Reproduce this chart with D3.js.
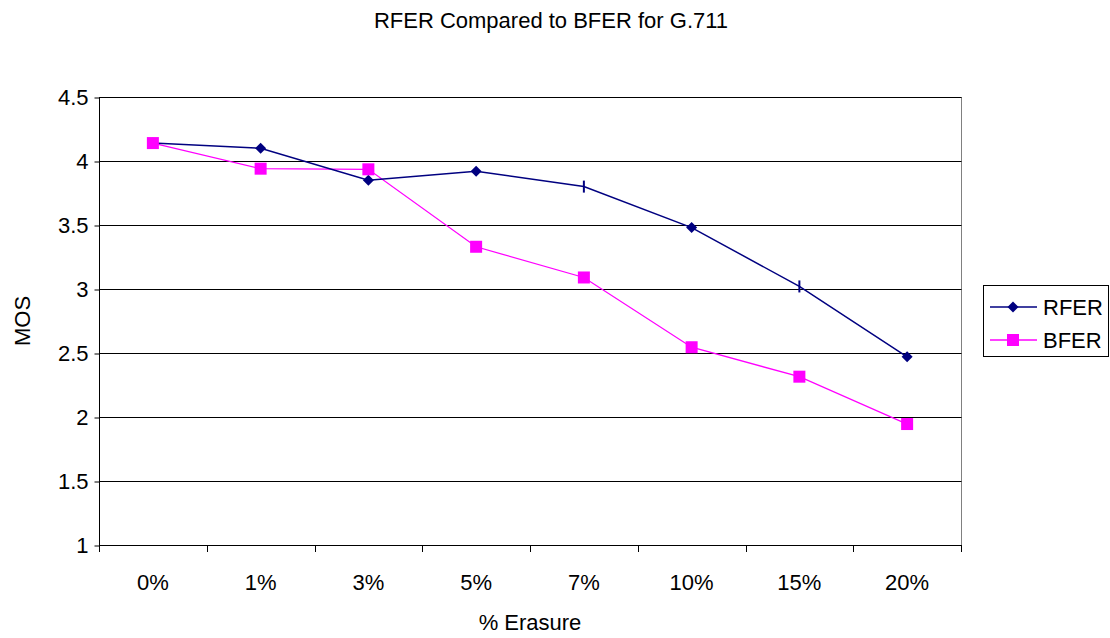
<!DOCTYPE html>
<html>
<head>
<meta charset="utf-8">
<script src="https://cdn.jsdelivr.net/npm/d3@7"></script>
<style>
  html, body { margin: 0; padding: 0; background: #fff; }
  svg { display: block; font-family: "Liberation Sans", Arial, sans-serif; }
</style>
</head>
<body>
<svg id="chart" width="1110" height="638"></svg>
<script>
// Categories and series values
const categories = ["0%", "1%", "3%", "5%", "7%", "10%", "15%", "20%"];
const rferValues = [4.14, 4.10, 3.85, 3.92, 3.80, 3.48, 3.02, 2.47];
const bferValues = [4.14, 3.94, 3.935, 3.33, 3.09, 2.545, 2.315, 1.945];
const yTickValues = [1, 1.5, 2, 2.5, 3, 3.5, 4, 4.5];
const seriesNames = ["RFER", "BFER"];

const svg = d3.select("#chart");
const W = 1110, H = 638;
const plot = { left: 99, right: 961, top: 97, bottom: 545 };
const fontSize = 22;

const x = d3.scaleBand().domain(categories).range([plot.left, plot.right]).padding(0);
const y = d3.scaleLinear().domain([1, 4.5]).range([plot.bottom, plot.top]);
const cx = c => x(c) + x.bandwidth() / 2;

// Plot area frame
svg.append("rect")
  .attr("x", plot.left + 0.5).attr("y", plot.top + 0.5)
  .attr("width", plot.right - plot.left).attr("height", plot.bottom - plot.top)
  .attr("fill", "#fff").attr("stroke", "#808080").attr("stroke-width", 1);

// Horizontal gridlines
svg.append("g").selectAll("line")
  .data(yTickValues.filter(v => v > 1))
  .join("line")
  .attr("x1", plot.left).attr("x2", plot.right + 0.5)
  .attr("y1", d => Math.round(y(d)) + 0.5).attr("y2", d => Math.round(y(d)) + 0.5)
  .attr("stroke", "#000").attr("stroke-width", 1);

// Y axis
const yAxis = d3.axisLeft(y).tickValues(yTickValues).tickSize(5).tickPadding(6)
  .tickFormat(d => String(d));
const gy = svg.append("g").attr("transform", `translate(${plot.left + 0.5},0.5)`).call(yAxis);
gy.select(".domain").attr("stroke", "#000").attr("d", `M0,${plot.top}V${plot.bottom}`);
gy.selectAll(".tick line").attr("stroke", "#000");
gy.selectAll(".tick text").attr("font-size", fontSize).attr("fill", "#000")
  .attr("font-family", "Liberation Sans, Arial, sans-serif");

// X axis: baseline, ticks between categories, labels centred on categories
const gx = svg.append("g");
gx.append("line")
  .attr("x1", plot.left).attr("x2", plot.right + 1)
  .attr("y1", plot.bottom + 0.5).attr("y2", plot.bottom + 0.5)
  .attr("stroke", "#000");
const boundaries = categories.map(c => x(c)).concat([plot.right]);
gx.selectAll("line.tk").data(boundaries).join("line").attr("class", "tk")
  .attr("x1", d => Math.round(d) + 0.5).attr("x2", d => Math.round(d) + 0.5)
  .attr("y1", plot.bottom).attr("y2", plot.bottom + 7)
  .attr("stroke", "#000");
gx.selectAll("text").data(categories).join("text")
  .attr("x", d => cx(d)).attr("y", 590)
  .attr("text-anchor", "middle").attr("font-size", fontSize).attr("fill", "#000")
  .text(d => d);

// Titles
svg.append("text").attr("x", 551).attr("y", 28).attr("text-anchor", "middle")
  .attr("font-size", fontSize).text("RFER Compared to BFER for G.711");
svg.append("text").attr("x", 530).attr("y", 630).attr("text-anchor", "middle")
  .attr("font-size", fontSize).text("% Erasure");
svg.append("text").attr("transform", `translate(30,${(plot.top + plot.bottom) / 2}) rotate(-90)`)
  .attr("text-anchor", "middle").attr("font-size", fontSize).text("MOS");

// Series styling
const navy = "#000080", magenta = "#FF00FF";
const diamondPath = r => `M0,${-r}L${r},0L0,${r}L${-r},0Z`;
const dashPoints = new Set([4, 6]); // RFER points drawn with a vertical dash marker

const line = d3.line().x((d, i) => cx(categories[i])).y(d => y(d));

// BFER first so RFER sits on top where they meet
svg.append("path").datum(bferValues).attr("d", line)
  .attr("fill", "none").attr("stroke", magenta).attr("stroke-width", 1.3);
svg.append("path").datum(rferValues).attr("d", line)
  .attr("fill", "none").attr("stroke", navy).attr("stroke-width", 1.5);

// RFER markers
svg.append("g").selectAll("path")
  .data(rferValues.map((v, i) => ({ v, i })))
  .join("path")
  .attr("transform", d => `translate(${cx(categories[d.i])},${y(d.v)})`)
  .attr("d", d => dashPoints.has(d.i) ? "M-1,-6H1V6H-1Z" : diamondPath(5.5))
  .attr("fill", navy);

// BFER markers
svg.append("g").selectAll("rect")
  .data(bferValues.map((v, i) => ({ v, i })))
  .join("rect")
  .attr("x", d => cx(categories[d.i]) - 6).attr("y", d => y(d.v) - 6)
  .attr("width", 12).attr("height", 12)
  .attr("fill", magenta);

// Legend
const legend = svg.append("g");
legend.append("rect").attr("x", 983.5).attr("y", 285.5).attr("width", 125).attr("height", 71)
  .attr("fill", "#fff").attr("stroke", "#000");
const legendRows = [
  { name: seriesNames[0], color: navy, y: 307 },
  { name: seriesNames[1], color: magenta, y: 340 }
];
legendRows.forEach((r, k) => {
  legend.append("line").attr("x1", 990).attr("x2", 1037).attr("y1", r.y).attr("y2", r.y)
    .attr("stroke", r.color).attr("stroke-width", k === 0 ? 1.5 : 1.3);
  if (k === 0) {
    legend.append("path").attr("transform", `translate(1013,${r.y})`).attr("d", diamondPath(5.5)).attr("fill", navy);
  } else {
    legend.append("rect").attr("x", 1007).attr("y", r.y - 6).attr("width", 12).attr("height", 12).attr("fill", magenta);
  }
  legend.append("text").attr("x", 1043).attr("y", r.y + 8).attr("font-size", fontSize).text(r.name);
});
</script>
</body>
</html>
